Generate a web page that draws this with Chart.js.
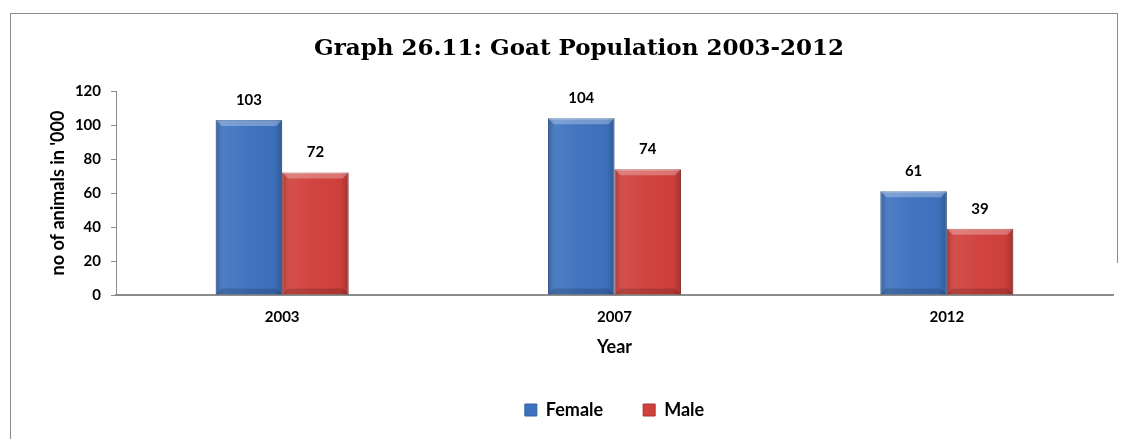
<!DOCTYPE html>
<html>
<head>
<meta charset="utf-8">
<script src="https://cdn.jsdelivr.net/npm/chart.js@4/dist/chart.umd.min.js"></script>
<style>
  html, body { margin: 0; padding: 0; background: #fff; overflow: hidden; }
  #frame { position: absolute; left: 10px; top: 13px; width: 1106px; height: 460px; border-left: 1px solid #8c8c8c; border-top: 1px solid #8c8c8c; }
  #rightEdge { position: absolute; left: 1117px; top: 13px; width: 1px; height: 250px; background: #8c8c8c; }
  #wrap { position: absolute; left: 0; top: 0; width: 1126px; height: 439px; }
</style>
</head>
<body>
<div id="frame"></div>
<div id="rightEdge"></div>
<div id="wrap"><canvas id="goat" width="1126" height="439"></canvas></div>
<script>
// data
var years = ["2003", "2007", "2012"];
var female = [103, 104, 61];
var male = [72, 74, 39];
var yTicks = [0, 20, 40, 60, 80, 100, 120];

var bodyFont = "Lato, 'Open Sans', sans-serif";

// values above bars
var valueLabels = {
    id: 'valueLabels',
    afterDatasetsDraw: function(chart) {
        var ctx = chart.ctx;
        ctx.save();
        ctx.font = "bold 15px " + bodyFont;
        ctx.fillStyle = "#000";
        ctx.textAlign = "center";
        ctx.textBaseline = "middle";
        chart.data.datasets.forEach(function(ds, di) {
            chart.getDatasetMeta(di).data.forEach(function(bar, i) {
                ctx.fillText(ds.data[i], bar.x, bar.y - 20);
            });
        });
        ctx.restore();
    }
};

// bevel look on each bar
var bevel = {
    id: 'bevel',
    afterDatasetsDraw: function(chart) {
        var ctx = chart.ctx;
        ctx.save();
        chart.data.datasets.forEach(function(ds, di) {
            chart.getDatasetMeta(di).data.forEach(function(bar) {
                var l = bar.x - bar.width / 2, r = bar.x + bar.width / 2;
                var t = bar.y, b = bar.base, e = 6;
                var g = ctx.createLinearGradient(l, 0, r, 0);
                g.addColorStop(0, "rgba(0,0,0,0.18)");
                g.addColorStop(0.12, "rgba(255,255,255,0.08)");
                g.addColorStop(0.5, "rgba(255,255,255,0.02)");
                g.addColorStop(0.88, "rgba(0,0,0,0.02)");
                g.addColorStop(1, "rgba(0,0,0,0.22)");
                ctx.fillStyle = g;
                ctx.fillRect(l, t, r - l, b - t);
                // top edge highlight
                ctx.fillStyle = "rgba(255,255,255,0.28)";
                ctx.beginPath();
                ctx.moveTo(l, t); ctx.lineTo(r, t); ctx.lineTo(r - e, t + e); ctx.lineTo(l + e, t + e);
                ctx.closePath(); ctx.fill();
                // bottom edge shade
                ctx.fillStyle = "rgba(0,0,0,0.15)";
                ctx.beginPath();
                ctx.moveTo(l, b); ctx.lineTo(r, b); ctx.lineTo(r - e, b - e); ctx.lineTo(l + e, b - e);
                ctx.closePath(); ctx.fill();
            });
        });
        ctx.restore();
    }
};

new Chart(document.getElementById("goat"), {
    type: 'bar',
    data: {
        labels: years,
        datasets: [
            {
                label: "Female",
                data: female,
                backgroundColor: "#3e72be",
                borderColor: "#33609f",
                borderWidth: 1,
                categoryPercentage: 0.4,
                barPercentage: 1.0
            },
            {
                label: "Male",
                data: male,
                backgroundColor: "#d0403c",
                borderColor: "#a83330",
                borderWidth: 1,
                categoryPercentage: 0.4,
                barPercentage: 1.0
            }
        ]
    },
    plugins: [bevel, valueLabels],
    options: {
        responsive: false,
        animation: false,
        devicePixelRatio: 1,
        layout: { padding: { top: 0, right: 13, bottom: 10, left: 45 } },
        plugins: {
            tooltip: { enabled: false },
            title: {
                display: true,
                text: "Graph 26.11: Goat Population 2003-2012",
                color: "#000",
                font: { family: "'DejaVu Serif', serif", size: 23, weight: 'bold', lineHeight: 1.2 },
                padding: { top: 35.2, bottom: 28.2 }
            },
            legend: {
                position: 'bottom',
                fullSize: false,
                labels: {
                    color: "#000",
                    boxWidth: 12,
                    boxHeight: 12,
                    padding: 40,
                    font: { family: bodyFont, size: 18, weight: 'bold' }
                }
            }
        },
        scales: {
            x: {
                grid: { display: false, drawTicks: false },
                border: { color: "#8c8c8c", width: 2 },
                ticks: { color: "#000", padding: 13, font: { family: bodyFont, size: 15, weight: 'bold' } },
                title: {
                    display: true, text: "Year", color: "#000",
                    font: { family: bodyFont, size: 18, weight: 'bold' },
                    padding: { top: 0, bottom: 3 }
                },
                afterFit: function(s) { s.height = 66; }
            },
            y: {
                min: 0,
                max: 120,
                afterBuildTicks: function(s) { s.ticks = yTicks.map(function(v) { return { value: v }; }); },
                grid: { drawOnChartArea: false, drawTicks: true, tickLength: 5, color: "#8c8c8c" },
                border: { color: "#8c8c8c", width: 1 },
                ticks: { color: "#000", padding: 10, font: { family: bodyFont, size: 15, weight: 'bold' } },
                title: {
                    display: true, text: "no of animals in '000", color: "#000",
                    font: { family: bodyFont, size: 18, weight: 'bold' },
                    padding: { top: 2, bottom: 0 }
                },
                afterFit: function(s) { s.width = 71; }
            }
        }
    }
});
</script>
</body>
</html>
